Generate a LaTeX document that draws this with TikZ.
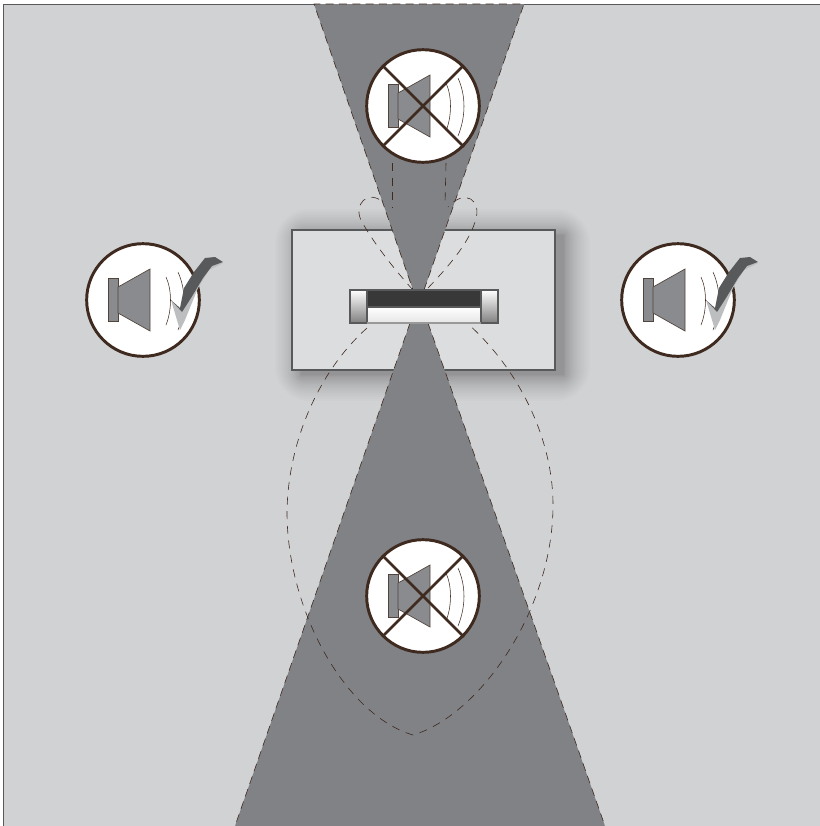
\documentclass[tikz,border=0pt]{standalone}
\definecolor{bggray}{HTML}{D1D2D4}
\definecolor{boxgray}{HTML}{DCDDDF}
\definecolor{wedgegray}{HTML}{808285}
\definecolor{linegray}{HTML}{58595B}
\definecolor{brownline}{HTML}{3F2A20}
\definecolor{spkgray}{HTML}{8A8B8E}
\definecolor{ticklight}{HTML}{BCBEC0}
\tikzset{
  lobe/.style={draw=brownline,line width=0.45pt,dash pattern=on 6pt off 5pt},
  wedgefill/.style={fill=wedgegray},
  wedgeedge/.style={draw=brownline,line width=0.45pt,dash pattern=on 6pt off 4pt},
  disc/.style={circle,draw=brownline,line width=2.2pt,fill=white,minimum size=84.5pt,inner sep=0pt},
  spk/.style={fill=spkgray,draw=brownline!70!gray,line width=0.5pt},
  wave/.style={draw=brownline,line width=0.4pt},
  xline/.style={draw=brownline,line width=2.1pt},
}
\newcommand{\speaker}[1]{%
  \begin{scope}[shift={(#1)}]
    \path[spk] (-35,-21.5) rectangle (-25,21.5);
    \path[spk] (-25,-13) -- (7,-31) -- (7,31) -- (-25,13) -- cycle;
    \path[wave] (23,-23) .. controls (29,-10) and (29,10) .. (23,25);
    \path[wave] (35,-28) .. controls (43,-10) and (43,10) .. (35,30);
  \end{scope}}
\newcommand{\tick}[1]{%
  \begin{scope}[shift={(#1)}]
    \fill[ticklight] (28,0) -- (37,30) -- (42,20) -- (55,-12) -- (66,-30) -- (80,-37) -- (69,-36) -- (38,11) -- cycle;
    \fill[linegray] (28,0) -- (39,12) -- (48,-2) -- (60,-22) -- (69,-34) -- (80,-38) -- (72,-43) -- (62,-42) -- (51,-28) -- (41,-12) -- (37,8) -- cycle;
  \end{scope}}
\begin{document}
\begin{tikzpicture}[x=0.75pt,y=-0.75pt]
\useasboundingbox (0,0) rectangle (820,826);
\fill[white] (0,0) rectangle (820,826);
\fill[bggray] (3.5,4) rectangle (820,826);
\draw[linegray,line width=0.7pt] (820,4) -- (3.5,4) -- (3.5,826);
% shadow of the box
\foreach \k in {24,23,...,1}{
  \pgfmathsetmacro{\g}{\k*\k/22}
  \fill[black,opacity=0.013,rounded corners=\g pt] (292+9-\g,230+5-\g) rectangle (555+9+\g,370+5+\g);
}
\path[fill=boxgray,draw=linegray,line width=0.8pt] (292,230) rectangle (555,370);
% wedges
\path[wedgefill] (314,4) -- (524,4) -- (424,290) -- (413,290) -- cycle;
\path[wedgeedge] (424,290) -- (524,4) -- (314,4) -- (413,290);
\path[wedgefill] (410,323) -- (428,323) -- (605,826) -- (235,826) -- cycle;
\path[wedgeedge] (428,323) -- (605,826);
\path[wedgeedge] (410,323) -- (235,826);
% lobes
\path[lobe] (413,290) .. controls (395,270) and (375,245) .. (362,222) .. controls (352,205) and (368,188) .. (384,203);
\path[lobe] (428,288) .. controls (445,270) and (468,245) .. (475,222) .. controls (483,200) and (465,188) .. (448,207);
\path[lobe] (392,163) -- (392,208);
\path[lobe] (446,163) -- (445,205);
\path[lobe] (367,328) .. controls (320,370) and (288,440) .. (287,512) .. controls (287,610) and (345,715) .. (413,735) .. controls (480,715) and (553,610) .. (553,505) .. controls (553,440) and (520,370) .. (467,323);
% bar
\shade[top color=white,bottom color=black!50] (350,290) rectangle (367,323);
\shade[top color=white,bottom color=black!50] (481,290) rectangle (498,323);
\fill[black!78] (367,290) rectangle (481,307);
\shade[top color=white,bottom color=black!10] (367,307) rectangle (481,323);
\draw[linegray,line width=1pt] (350,290) rectangle (367,323);
\draw[linegray,line width=1pt] (481,290) rectangle (498,323);
\draw[linegray,line width=1pt] (367,290) -- (481,290);
\draw[black!40,line width=1pt] (367,323) -- (481,323);
\draw[black!65,line width=0.8pt] (367,307) -- (481,307);
% speakers
\node[disc] (top) at (423,106) {};
\node[disc] (bottom) at (423,596) {};
\node[disc] (left) at (143,300) {};
\node[disc] (right) at (678,300) {};
\speaker{top}
\speaker{bottom}
\speaker{left}
\speaker{right}
\draw[xline] (top.135) -- (top.-45) (top.45) -- (top.-135);
\draw[xline] (bottom.135) -- (bottom.-45) (bottom.45) -- (bottom.-135);
\tick{left}
\tick{right}
\end{tikzpicture}
\end{document}
